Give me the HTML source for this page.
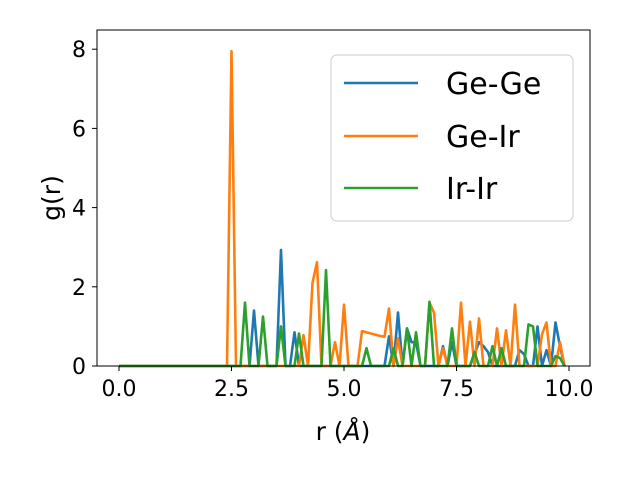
<!DOCTYPE html>
<html><head><meta charset="utf-8"><style>
body{margin:0;background:#fff;}
svg{display:block;font-family:"DejaVu Sans","Liberation Sans",sans-serif;}
</style></head><body>
<svg id="chart" width="640" height="480">
<rect x="97" y="30" width="493" height="336" fill="#fff"/>
<g id="lines"></g>
<rect x="97" y="30" width="493" height="336" fill="none" stroke="#000" stroke-width="1"/>
<g id="ticks"></g>
<text x="343" y="440" font-size="25" text-anchor="middle">r (<tspan font-style="italic">Å</tspan>)</text>
<text transform="translate(60,198) rotate(-90)" font-size="25" text-anchor="middle">g(r)</text>
<g>
<rect x="331" y="55" width="242" height="166" rx="6" fill="#fff" fill-opacity="0.8" stroke="#ccc" stroke-width="1"/>
<g><line x1="344" y1="83" x2="418" y2="83" stroke="#1f77b4" stroke-width="2.6"/><text x="446" y="94" font-size="30">Ge-Ge</text></g>
<g><line x1="344" y1="136" x2="418" y2="136" stroke="#ff7f0e" stroke-width="2.6"/><text x="446" y="147" font-size="30">Ge-Ir</text></g>
<g><line x1="344" y1="188" x2="418" y2="188" stroke="#2ca02c" stroke-width="2.6"/><text x="446" y="199" font-size="30">Ir-Ir</text></g>
</g>
</svg>
<script>
const Z10=[0,0,0,0,0,0,0,0,0,0];
const rValues=[];for(let i=0;i<100;i++)rValues.push(i/10);
const geGe=[].concat(Z10,Z10,Z10,
[1.4,0,0,0,0,0,2.93,0,0,0.85],Z10,Z10,
[0.75,0,1.35,0,0.95,0.6,0.6,0,0,0],
[0,0,0.5,0,0.6,0,0,0,0,0.3],
[0.6,0.5,0.35,0,0,0,0,0,0,0.4],
[0.3,0,0,1.0,0,0.4,0,1.1,0.5,0]);
const geIr=[].concat(Z10,Z10,
[0,0,0,0,0,7.95,0,0,0,0],Z10,
[0,0.78,0,2.1,2.62,0,0,0,0.6,0],
[1.55,0,0,0,0.88,0.85,0.82,0.79,0.76,0.74],
[1.45,0,0.7,0,0,0,0,0,0,1.6],
[1.35,0,0.45,0,0,0,1.6,0,1.12,0],
[1.2,0,0,0,0.95,0,0.9,0,1.55,0],
[0,0,0,0,0.8,1.1,0,0,0.6,0]);
const irIr=[].concat(Z10,Z10,
[0,0,0,0,0,0,0,0,1.6,0],
[0,0,1.25,0,0,0,1.0,0,0,0],
[0.82,0,0,0,0,0,2.42,0,0,0],
[0,0,0,0,0,0.45,0,0,0,0],
[0,0.45,0,0,0.95,0,0.85,0,0,1.62],
[0,0,0,0,0.95,0,0,0,0,0.35],
[0,0,0,0.5,0,0.45,0,0,0,0],
[0,1.05,1.0,0,0,0,0,0.25,0.2,0]);
const xTicks=[0,2.5,5,7.5,10];
const xTickLabels=["0.0","2.5","5.0","7.5","10.0"];
const yTicks=[0,2,4,6,8];
const yTickLabels=["0","2","4","6","8"];

const NS="http://www.w3.org/2000/svg";
const xs=v=>119+45*v;
const ys=v=>366-39.6*v;
const lines=document.getElementById('lines');
const series=[["ge-ge",geGe,"#1f77b4"],["ge-ir",geIr,"#ff7f0e"],["ir-ir",irIr,"#2ca02c"]];
series.forEach(([n,d,c])=>{
  const p=document.createElementNS(NS,'polyline');
  p.setAttribute('points',d.map((v,i)=>xs(rValues[i]).toFixed(2)+','+ys(v).toFixed(2)).join(' '));
  p.setAttribute('fill','none');p.setAttribute('stroke',c);p.setAttribute('stroke-width','2.6');
  p.setAttribute('stroke-linejoin','round');
  
  
  lines.appendChild(p);
});
const tg=document.getElementById('ticks');
xTicks.forEach((t,i)=>{
  const l=document.createElementNS(NS,'line');
  l.setAttribute('x1',xs(t));l.setAttribute('x2',xs(t));l.setAttribute('y1',366);l.setAttribute('y2',371);l.setAttribute('stroke','#000');
  
  
  tg.appendChild(l);
  const tx=document.createElementNS(NS,'text');
  tx.setAttribute('x',xs(t));tx.setAttribute('y',396);tx.setAttribute('font-size','22');tx.setAttribute('text-anchor','middle');
  tx.textContent=xTickLabels[i];
  
  
  tg.appendChild(tx);
});
yTicks.forEach((t,i)=>{
  const l=document.createElementNS(NS,'line');
  l.setAttribute('x1',92);l.setAttribute('x2',97);l.setAttribute('y1',ys(t));l.setAttribute('y2',ys(t));l.setAttribute('stroke','#000');
  
  
  tg.appendChild(l);
  const tx=document.createElementNS(NS,'text');
  tx.setAttribute('x',86);tx.setAttribute('y',ys(t)+8);tx.setAttribute('font-size','22');tx.setAttribute('text-anchor','end');
  tx.textContent=yTickLabels[i];
  
  
  tg.appendChild(tx);
});
</script>
</body></html>
